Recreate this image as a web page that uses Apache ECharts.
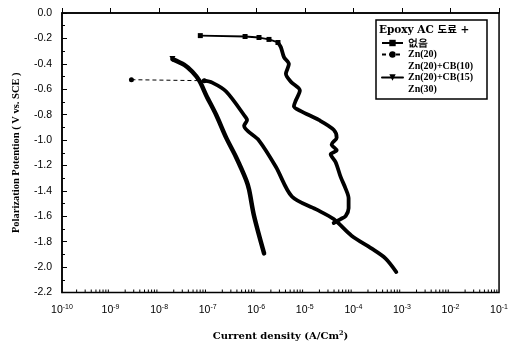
<!DOCTYPE html>
<html>
<head>
<meta charset="utf-8">
<script src="https://cdn.jsdelivr.net/npm/echarts@6/dist/echarts.min.js"></script>
<style>
  html, body { margin: 0; padding: 0; background: #fff; }
  #chart { width: 511px; height: 346px; }
</style>
</head>
<body>
<div id="chart"></div>
<script>
// Potentiodynamic polarization curves: current density (A/cm²) vs potential (V vs. SCE)

// Epoxy AC paint, no additive — initial section with markers
const noneHeadI = [7.05e-8, 5.89e-7, 1.14e-6, 1.83e-6, 2.80e-6];
const noneHeadE = [-0.178, -0.185, -0.193, -0.208, -0.232];
// Epoxy AC paint, no additive — main branch
const noneI = [2.80e-6, 3.22e-6, 3.72e-6, 4.70e-6, 4.08e-6, 5.16e-6, 7.91e-6, 6.55e-6, 5.96e-6, 8.28e-6,
               1.94e-5, 3.93e-5, 4.53e-5, 3.57e-5, 4.53e-5, 3.41e-5, 4.32e-5, 5.47e-5, 6.92e-5, 7.98e-5,
               7.98e-5, 6.92e-5, 5.47e-5, 3.93e-5];
const noneE = [-0.232, -0.270, -0.347, -0.402, -0.479, -0.541, -0.610, -0.687, -0.734, -0.772,
               -0.842, -0.919, -0.981, -1.035, -1.081, -1.112, -1.174, -1.290, -1.382, -1.459,
               -1.537, -1.598, -1.622, -1.653];

// Zn(20) — lead-in from the corrosion potential
const zn20LeadI = [2.69e-9, 8.5e-8];
const zn20LeadE = [-0.525, -0.533];
// Zn(20) — cathodic branch
const zn20I = [8.5e-8, 1.24e-7, 2.40e-7, 6.18e-7, 6.47e-7, 5.62e-7, 1.14e-6, 2.55e-6, 5.42e-6, 1.68e-5,
               3.93e-5, 9.18e-5, 2.36e-4, 4.57e-4, 7.67e-4];
const zn20E = [-0.533, -0.548, -0.618, -0.826, -0.842, -0.888, -1.004, -1.212, -1.444, -1.544,
               -1.622, -1.753, -1.853, -1.931, -2.039];

// Zn(20)+CB(15)
const cb15I = [1.88e-8, 3.31e-8, 4.83e-8, 6.73e-8, 9.35e-8, 1.50e-7, 2.40e-7, 3.85e-7, 6.18e-7, 7.11e-7, 9.02e-7, 1.45e-6];
const cb15E = [-0.363, -0.409, -0.463, -0.533, -0.649, -0.803, -0.981, -1.135, -1.313, -1.390, -1.598, -1.892];

// Legend entries
const legendTitle = 'Epoxy AC 도료 +';
const seriesNames = ['없음', 'Zn(20)', 'Zn(20)+CB(10)', 'Zn(20)+CB(15)', 'Zn(30)'];

// Axis ticks
const yTicks = { min: -2.2, max: 0, step: 0.2 };
const xDecades = { min: -10, max: -1 };

const pair = (xs, ys) => xs.map((x, i) => [x, ys[i]]);

// log-spaced minor ticks (2..9 × 10^n) along the bottom axis
const minorTickData = [];
for (let d = xDecades.min; d < xDecades.max; d++) {
  for (let k = 2; k <= 9; k++) minorTickData.push([k * Math.pow(10, d), yTicks.min]);
}

const cb15Data = pair(cb15I, cb15E).map((v, i) => i === 0 ? { value: v } : { value: v, symbol: 'none' });

const chart = echarts.init(document.getElementById('chart'), null, { renderer: 'canvas' });

const serif = 'Liberation Serif, Times New Roman, serif';
const sans = 'Liberation Sans, Arial, sans-serif';

chart.setOption({
  animation: false,
  backgroundColor: '#fff',
  grid: { left: 62, right: 9, top: 13, bottom: 48, show: true, borderColor: '#000', borderWidth: 1.5, backgroundColor: 'transparent' },
  xAxis: {
    type: 'log',
    logBase: 10,
    min: Math.pow(10, xDecades.min),
    max: Math.pow(10, xDecades.max),
    splitNumber: 9,
    name: 'Current density (A/Cm{s|2})',
    nameLocation: 'middle',
    nameGap: 37,
    nameTextStyle: {
      fontFamily: 'DejaVu Serif, serif', fontWeight: 'bold', fontSize: 10, color: '#000',
      rich: { s: { fontFamily: 'DejaVu Serif, serif', fontWeight: 'bold', fontSize: 6.5, color: '#000', padding: [0, 0, 6, 0] } }
    },
    axisLine: { show: true, lineStyle: { color: '#000', width: 1.5 } },
    axisTick: { show: true, inside: true, length: 5, lineStyle: { color: '#000', width: 1 } },
    minorTick: { show: false },
    splitLine: { show: false },
    axisLabel: {
      margin: 11,
      color: '#000',
      fontFamily: sans,
      fontSize: 10.5,
      formatter: v => '10{s|' + Math.round(Math.log10(v)) + '}',
      rich: { s: { fontFamily: sans, fontSize: 7, color: '#000', padding: [0, 0, 6, 0] } }
    }
  },
  yAxis: {
    type: 'value',
    min: yTicks.min,
    max: yTicks.max,
    interval: yTicks.step,
    name: 'Polarization Potention ( V vs. SCE )',
    nameLocation: 'middle',
    nameGap: 40,
    nameTextStyle: { fontFamily: serif, fontWeight: 'bold', fontSize: 10.5, color: '#000' },
    axisLine: { show: true, lineStyle: { color: '#000', width: 1.5 } },
    axisTick: { show: true, inside: true, length: 5, lineStyle: { color: '#000', width: 1 } },
    minorTick: { show: true, splitNumber: 2, length: 3, lineStyle: { color: '#000', width: 1 } },
    splitLine: { show: false },
    axisLabel: {
      margin: 10,
      color: '#000',
      fontFamily: sans,
      fontSize: 10.5,
      formatter: v => v.toFixed(1)
    }
  },
  legend: {
    orient: 'vertical',
    left: 381,
    top: 38,
    itemWidth: 21,
    itemHeight: 8,
    itemGap: 1.5,
    padding: 0,
    selectedMode: false,
    textStyle: { fontFamily: serif, fontWeight: 'bold', fontSize: 10, color: '#000', lineHeight: 10 },
    data: [
      { name: seriesNames[0] },
      { name: seriesNames[1] },
      { name: seriesNames[2], itemStyle: { opacity: 0 }, lineStyle: { opacity: 0 } },
      { name: seriesNames[3] },
      { name: seriesNames[4], itemStyle: { opacity: 0 }, lineStyle: { opacity: 0 } }
    ]
  },
  graphic: [
    { type: 'rect', shape: { x: 376, y: 20, width: 111, height: 79 }, style: { fill: 'transparent', stroke: '#000', lineWidth: 1.5 }, z: 10 },
    { type: 'text', x: 379, y: 25, style: { text: legendTitle, fontFamily: 'DejaVu Serif, Noto Sans CJK KR, serif', fontWeight: 'bold', fontSize: 10.5, fill: '#000' }, z: 10 }
  ],
  series: [
    {
      name: seriesNames[0], type: 'line', data: pair(noneHeadI, noneHeadE),
      symbol: 'rect', symbolSize: 5, showSymbol: true,
      lineStyle: { color: '#000', width: 1.8 }, itemStyle: { color: '#000' }, z: 3
    },
    {
      name: seriesNames[0], type: 'line', data: pair(noneI, noneE), symbol: 'none', smooth: 0.3,
      lineStyle: { color: '#000', width: 3.8, join: 'round', cap: 'round' }, itemStyle: { color: '#000' }, z: 3
    },
    {
      name: seriesNames[1], type: 'line', data: pair(zn20LeadI, zn20LeadE),
      symbol: 'circle', symbolSize: 5, showSymbol: true,
      lineStyle: { color: '#000', width: 1, type: [4, 3] }, itemStyle: { color: '#000' }, z: 3
    },
    {
      name: seriesNames[1], type: 'line', data: pair(zn20I, zn20E), symbol: 'none', smooth: 0.3,
      lineStyle: { color: '#000', width: 3.8, join: 'round', cap: 'round' }, itemStyle: { color: '#000' }, z: 3
    },
    { name: seriesNames[2], type: 'line', data: [], symbol: 'none', lineStyle: { color: '#000', width: 1 }, itemStyle: { color: '#000' } },
    {
      name: seriesNames[3], type: 'line', data: cb15Data, smooth: 0.3,
      symbol: 'triangle', symbolRotate: 180, symbolSize: 6, showSymbol: true,
      lineStyle: { color: '#000', width: 4.5, join: 'round', cap: 'round' }, itemStyle: { color: '#000' }, z: 3
    },
    { name: seriesNames[4], type: 'line', data: [], symbol: 'none', lineStyle: { color: '#000', width: 1 }, itemStyle: { color: '#000' } },
    {
      name: 'minor', type: 'custom', data: minorTickData, silent: true, z: 4,
      renderItem: (params, api) => {
        const p = api.coord([api.value(0), api.value(1)]);
        return { type: 'line', shape: { x1: p[0], y1: p[1], x2: p[0], y2: p[1] - 3 }, style: { stroke: '#000', lineWidth: 1 } };
      }
    }
  ]
});
</script>
</body>
</html>
